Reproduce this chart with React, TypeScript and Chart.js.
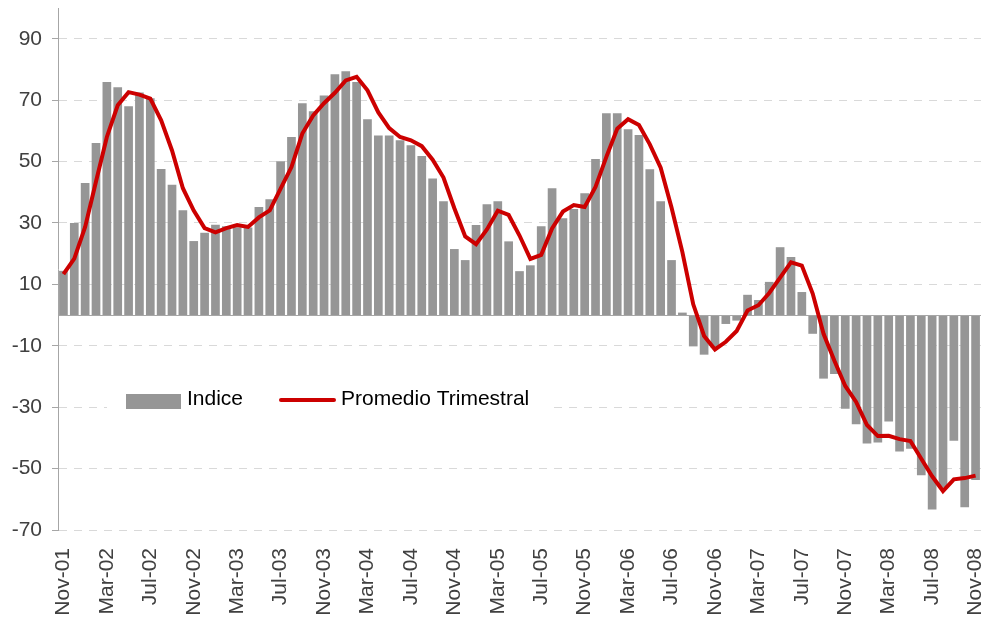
import { useEffect, useRef } from "react";
import { Chart, registerables } from "chart.js";

Chart.register(...registerables);

const months = [
  "Nov-01", "Dec-01",
  "Jan-02", "Feb-02", "Mar-02", "Apr-02", "May-02", "Jun-02", "Jul-02", "Aug-02", "Sep-02", "Oct-02", "Nov-02", "Dec-02",
  "Jan-03", "Feb-03", "Mar-03", "Apr-03", "May-03", "Jun-03", "Jul-03", "Aug-03", "Sep-03", "Oct-03", "Nov-03", "Dec-03",
  "Jan-04", "Feb-04", "Mar-04", "Apr-04", "May-04", "Jun-04", "Jul-04", "Aug-04", "Sep-04", "Oct-04", "Nov-04", "Dec-04",
  "Jan-05", "Feb-05", "Mar-05", "Apr-05", "May-05", "Jun-05", "Jul-05", "Aug-05", "Sep-05", "Oct-05", "Nov-05", "Dec-05",
  "Jan-06", "Feb-06", "Mar-06", "Apr-06", "May-06", "Jun-06", "Jul-06", "Aug-06", "Sep-06", "Oct-06", "Nov-06", "Dec-06",
  "Jan-07", "Feb-07", "Mar-07", "Apr-07", "May-07", "Jun-07", "Jul-07", "Aug-07", "Sep-07", "Oct-07", "Nov-07", "Dec-07",
  "Jan-08", "Feb-08", "Mar-08", "Apr-08", "May-08", "Jun-08", "Jul-08", "Aug-08", "Sep-08", "Oct-08", "Nov-08",
];

const indice = [
  14.4, 30.0, 43.0, 56.0, 75.9, 74.2, 68.0, 72.5, 70.6, 47.6,
  42.4, 34.1, 24.1, 26.8, 29.4, 28.9, 28.6, 28.5, 35.2, 37.7,
  50.1, 58.0, 69.0, 66.4, 71.5, 78.4, 79.4, 75.9, 63.8, 58.5,
  58.5, 56.9, 55.3, 51.8, 44.5, 37.1, 21.5, 17.9, 29.3, 36.1,
  37.1, 24.0, 14.3, 16.2, 28.9, 41.3, 31.5, 34.5, 39.7, 50.8,
  65.7, 65.7, 60.5, 58.6, 47.5, 37.1, 17.9, 0.8, -10.2, -12.9,
  -10.6, -2.9, -1.8, 6.6, 4.9, 10.8, 22.1, 18.9, 7.5, -6.1,
  -20.7, -19.2, -30.5, -35.6, -41.8, -41.5, -34.7, -44.4, -43.5, -52.2,
  -63.3, -56.2, -40.9, -62.6, -53.7,
];

const promedio = [
  13.3, 18.4, 28.7, 43.5, 58.0, 68.3, 72.6, 71.8, 70.5, 63.4,
  53.6, 41.3, 34.0, 28.3, 26.9, 28.3, 29.3, 28.7, 31.8, 34.1,
  41.2, 48.2, 59.1, 65.0, 69.0, 72.4, 76.4, 77.6, 73.2, 66.0,
  60.9, 58.0, 56.9, 55.0, 50.6, 44.8, 34.8, 25.6, 23.1, 27.9,
  34.0, 32.6, 25.9, 18.3, 19.6, 28.2, 33.7, 35.8, 35.2, 41.7,
  51.5, 60.7, 63.8, 61.9, 55.6, 48.0, 35.0, 20.5, 3.5, -6.8,
  -11.2, -8.7, -5.2, 1.5, 3.2, 7.2, 12.2, 17.2, 16.1, 7.0,
  -6.1, -14.9, -23.1, -28.3, -35.8, -39.4, -39.3, -40.4, -41.0, -46.8,
  -52.5, -57.3, -53.5, -53.1, -52.3,
];

const yTicks = [-70, -50, -30, -10, 10, 30, 50, 70, 90];
const seriesNames = ["Indice", "Promedio Trimestral"];

const FONT = "'Liberation Sans', Arial, sans-serif";
const BAR_COLOR = "#969696";
const LINE_COLOR = "#cc0000";
const AXIS_COLOR = "#a6a6a6";

const overlayPlugin = {
  id: "overlay",
  afterDatasetDraw(chart: any, args: any) {
    if (args.meta.type !== "bar") return;
    const { ctx, chartArea } = chart;
    const y0 = Math.round(chart.scales.y.getPixelForValue(0)) + 0.5;
    ctx.save();
    ctx.strokeStyle = AXIS_COLOR;
    ctx.lineWidth = 1;
    ctx.beginPath();
    ctx.moveTo(chartArea.left, y0);
    ctx.lineTo(chartArea.right, y0);
    ctx.stroke();
    ctx.restore();
  },
  afterDraw(chart: any) {
    const { ctx } = chart;
    ctx.save();
    ctx.fillStyle = "#ffffff";
    ctx.fillRect(107, 382, 443, 36);
    ctx.fillStyle = BAR_COLOR;
    ctx.fillRect(126, 394, 55, 15);
    ctx.font = `21px ${FONT}`;
    ctx.fillStyle = "#000000";
    ctx.textBaseline = "middle";
    ctx.textAlign = "left";
    ctx.fillText(seriesNames[0], 187, 399);
    ctx.strokeStyle = LINE_COLOR;
    ctx.lineWidth = 4;
    ctx.lineCap = "round";
    ctx.beginPath();
    ctx.moveTo(281, 400);
    ctx.lineTo(334, 400);
    ctx.stroke();
    ctx.fillText(seriesNames[1], 341, 399);
    ctx.restore();
  },
};

export default function App() {
  const ref = useRef<HTMLCanvasElement>(null);
  useEffect(() => {
    document.body.style.margin = "0";
    const chart = new Chart(ref.current as HTMLCanvasElement, {
      type: "bar",
      data: {
        labels: months,
        datasets: [
          {
            type: "line",
            label: seriesNames[1],
            data: promedio,
            borderColor: LINE_COLOR,
            borderWidth: 4,
            pointRadius: 0,
            tension: 0,
            fill: false,
            order: 1,
          } as any,
          {
            type: "bar",
            label: seriesNames[0],
            data: indice,
            backgroundColor: BAR_COLOR,
            barPercentage: 0.8,
            categoryPercentage: 1,
            order: 2,
          } as any,
        ],
      },
      options: {
        animation: false,
        responsive: false,
        maintainAspectRatio: false,
        layout: { padding: { top: 8, right: 2, left: 0, bottom: 0 } },
        plugins: { legend: { display: false }, tooltip: { enabled: false } },
        scales: {
          x: {
            grid: { display: false, drawTicks: false },
            border: { display: false },
            ticks: {
              autoSkip: false,
              maxRotation: 90,
              minRotation: 90,
              padding: 18,
              color: "#404040",
              font: { family: FONT, size: 21 },
              callback: (_v: any, i: number) => (i % 4 === 0 ? months[i] : ""),
            },
            afterFit: (s: any) => {
              s.height = 88;
              s.paddingLeft = 0;
              s.paddingRight = 0;
            },
          },
          y: {
            min: -70,
            max: 100,
            afterBuildTicks: (s: any) => {
              s.ticks = yTicks.map((v) => ({ value: v }));
            },
            grid: {
              color: "#d9d9d9",
              lineWidth: 1,
              drawTicks: true,
              tickLength: 6,
              tickColor: AXIS_COLOR,
              tickBorderDash: [],
            },
            border: { display: true, color: AXIS_COLOR, width: 1, dash: [8, 7] },
            ticks: {
              padding: 10,
              color: "#404040",
              font: { family: FONT, size: 21 },
            },
            afterFit: (s: any) => {
              s.width = 58;
              s.paddingTop = 0;
              s.paddingBottom = 0;
            },
          },
        },
      } as any,
      plugins: [overlayPlugin],
    });
    return () => chart.destroy();
  }, []);
  return (
    <div style={{ width: 983, height: 618 }}>
      <canvas ref={ref} width={983} height={618} style={{ display: "block" }} />
    </div>
  );
}
